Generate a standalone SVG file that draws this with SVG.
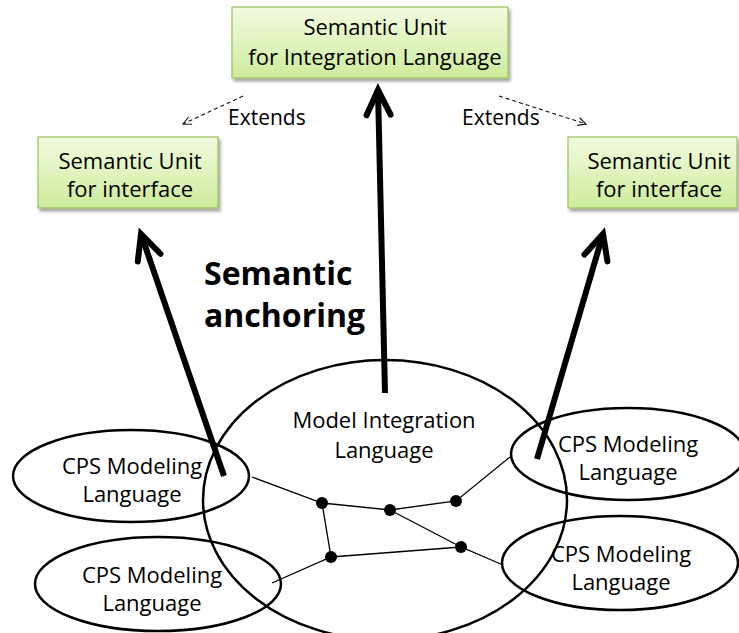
<svg xmlns="http://www.w3.org/2000/svg" width="739" height="633" viewBox="0 0 739 633">
  <defs>
    <linearGradient id="boxFill" x1="0" y1="0" x2="0" y2="1">
      <stop offset="0" stop-color="#f3fbe0"/>
      <stop offset="1" stop-color="#cdec9c"/>
    </linearGradient>
    <filter id="shadow" x="-10%" y="-10%" width="130%" height="140%">
      <feDropShadow dx="2" dy="3" stdDeviation="1.8" flood-color="#000" flood-opacity="0.35"/>
    </filter>
    <marker id="bigHead" markerUnits="userSpaceOnUse" orient="auto" refX="0" refY="0" markerWidth="60" markerHeight="60" viewBox="-40 -30 60 60" overflow="visible">
      <path d="M -25 -12 L 0 0 L -25 12" fill="none" stroke="#000" stroke-width="6" stroke-linecap="round" stroke-linejoin="miter"/>
    </marker>
    <marker id="thinHead" markerUnits="userSpaceOnUse" orient="auto" refX="0" refY="0" markerWidth="20" markerHeight="20" viewBox="-10 -10 20 20" overflow="visible">
      <path d="M -8 -4 L 0 0 L -8 4" fill="none" stroke="#111" stroke-width="1.1"/>
    </marker>
  </defs>
  <style>
    .box { fill: url(#boxFill); stroke: #98c15a; stroke-width: 1.2; filter: url(#shadow); }
    .lbl { font-family: "Open Sans", "Liberation Sans", sans-serif; font-size: 22px; fill: #000; text-anchor: middle; }
    .ext { font-family: "Open Sans", "Liberation Sans", sans-serif; font-size: 21px; fill: #000; }
    .big { font-family: "Open Sans", "Liberation Sans", sans-serif; font-size: 32px; font-weight: bold; fill: #000; }
    .oval { fill: none; stroke: #000; stroke-width: 2.5; }
    .link { stroke: #000; stroke-width: 1.3; fill: none; }
    .dot { fill: #000; }
    .anchor { stroke: #000; stroke-width: 6; fill: none; marker-end: url(#bigHead); }
    .extends { stroke: #111; stroke-width: 1.1; stroke-dasharray: 4 3; fill: none; marker-end: url(#thinHead); }
  </style>

  <!-- semantic units -->
  <g id="su-integration">
    <rect class="box" x="232" y="7" width="276" height="71"/>
    <text class="lbl" x="375" y="35">Semantic Unit</text>
    <text class="lbl" x="375" y="65">for Integration Language</text>
  </g>
  <g id="su-interface-left">
    <rect class="box" x="38" y="137" width="180" height="71"/>
    <text class="lbl" x="130" y="169">Semantic Unit</text>
    <text class="lbl" x="130" y="197">for interface</text>
  </g>
  <g id="su-interface-right">
    <rect class="box" x="568" y="137" width="169" height="71"/>
    <text class="lbl" x="659" y="169">Semantic Unit</text>
    <text class="lbl" x="659" y="197">for interface</text>
  </g>

  <!-- languages -->
  <g id="model-integration-language">
    <ellipse class="oval" cx="385" cy="500" rx="182" ry="140"/>
    <text class="lbl" x="384" y="428">Model Integration</text>
    <text class="lbl" x="384" y="458">Language</text>
  </g>
  <g id="cps-upper-left">
    <ellipse class="oval" cx="131" cy="476" rx="118" ry="46"/>
    <text class="lbl" x="132" y="474">CPS Modeling</text>
    <text class="lbl" x="132" y="502">Language</text>
  </g>
  <g id="cps-lower-left">
    <ellipse class="oval" cx="158" cy="584" rx="123" ry="47"/>
    <text class="lbl" x="152" y="583">CPS Modeling</text>
    <text class="lbl" x="152" y="611">Language</text>
  </g>
  <g id="cps-upper-right">
    <ellipse class="oval" cx="628" cy="454" rx="117" ry="46"/>
    <text class="lbl" x="628" y="452">CPS Modeling</text>
    <text class="lbl" x="628" y="480">Language</text>
  </g>
  <g id="cps-lower-right">
    <ellipse class="oval" cx="620" cy="563" rx="118" ry="47"/>
    <text class="lbl" x="621" y="562">CPS Modeling</text>
    <text class="lbl" x="621" y="590">Language</text>
  </g>

  <!-- labels -->
  <g id="label-anchoring">
    <text class="big" x="204" y="285">Semantic</text>
    <text class="big" x="204" y="327">anchoring</text>
  </g>
  <g id="label-extends">
    <text class="ext" x="228" y="125">Extends</text>
    <text class="ext" x="462" y="125">Extends</text>
  </g>

  <!-- connectors -->
  <g id="connectors">
    <!-- internal network of the integration language -->
    <polyline class="link" points="252,477 322,503 390,510 456,501 510,457"/>
    <polyline class="link" points="272,583 331,557 461,547 503,565"/>
    <line class="link" x1="322" y1="503" x2="331" y2="557"/>
    <line class="link" x1="390" y1="510" x2="461" y2="547"/>
    <circle class="dot" cx="322" cy="503" r="6"/>
    <circle class="dot" cx="390" cy="510" r="6"/>
    <circle class="dot" cx="456" cy="501" r="6"/>
    <circle class="dot" cx="331" cy="557" r="6"/>
    <circle class="dot" cx="461" cy="547" r="6"/>

    <!-- extends relations -->
    <line class="extends" x1="243" y1="96" x2="183" y2="124"/>
    <line class="extends" x1="499" y1="96" x2="586" y2="124"/>

    <!-- semantic anchoring -->
    <line class="anchor" x1="385" y1="393" x2="378" y2="90"/>
    <line class="anchor" x1="224" y1="476" x2="141" y2="234"/>
    <line class="anchor" x1="537" y1="459" x2="603" y2="234"/>
  </g>
</svg>
